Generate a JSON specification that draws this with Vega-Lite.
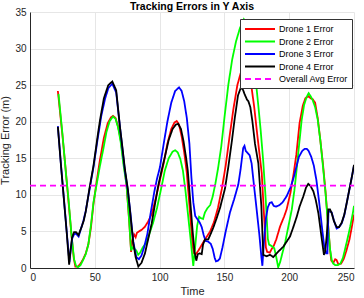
{
"$schema": "https://vega.github.io/schema/vega-lite/v6.json",
"width": 324, "height": 256,
"autosize": {"type": "none"},
"padding": {"left": 30, "top": 12, "right": 10, "bottom": 30},
"background": "white",
"title": {"text": "Tracking Errors in Y Axis", "fontSize": 10.5, "fontWeight": "bold", "font": "Liberation Sans", "offset": 0, "dy": 5, "color": "#000000"},
"data": {"values": [
{"s":"Drone 1 Error","t":21.5,"v":24.2},{"s":"Drone 1 Error","t":25,"v":18.2},{"s":"Drone 1 Error","t":27.5,"v":13.5},{"s":"Drone 1 Error","t":29.6,"v":9.3},{"s":"Drone 1 Error","t":32,"v":4.5},{"s":"Drone 1 Error","t":33.8,"v":1.3},{"s":"Drone 1 Error","t":35,"v":0.2},{"s":"Drone 1 Error","t":37,"v":0.2},{"s":"Drone 1 Error","t":39,"v":0.6},{"s":"Drone 1 Error","t":41,"v":1.2},{"s":"Drone 1 Error","t":43,"v":2.0},{"s":"Drone 1 Error","t":45,"v":3.2},{"s":"Drone 1 Error","t":47,"v":5.5},{"s":"Drone 1 Error","t":49,"v":8.8},{"s":"Drone 1 Error","t":51.4,"v":11.8},{"s":"Drone 1 Error","t":54,"v":14.8},{"s":"Drone 1 Error","t":57,"v":17.8},{"s":"Drone 1 Error","t":60,"v":19.8},{"s":"Drone 1 Error","t":62.5,"v":20.6},{"s":"Drone 1 Error","t":64,"v":20.8},{"s":"Drone 1 Error","t":66,"v":20.5},{"s":"Drone 1 Error","t":68,"v":19.3},{"s":"Drone 1 Error","t":70,"v":17.5},{"s":"Drone 1 Error","t":72,"v":14.8},{"s":"Drone 1 Error","t":74.5,"v":11.3},{"s":"Drone 1 Error","t":76.5,"v":6.5},{"s":"Drone 1 Error","t":78,"v":2.2},{"s":"Drone 1 Error","t":79,"v":3.8},{"s":"Drone 1 Error","t":80.3,"v":4.6},{"s":"Drone 1 Error","t":81.5,"v":4.2},{"s":"Drone 1 Error","t":82.5,"v":4.8},{"s":"Drone 1 Error","t":84,"v":5.0},{"s":"Drone 1 Error","t":86,"v":5.2},{"s":"Drone 1 Error","t":88.5,"v":5.6},{"s":"Drone 1 Error","t":91,"v":6.3},{"s":"Drone 1 Error","t":94,"v":7.4},{"s":"Drone 1 Error","t":97,"v":9.5},{"s":"Drone 1 Error","t":100,"v":11.8},{"s":"Drone 1 Error","t":103,"v":14.2},{"s":"Drone 1 Error","t":106,"v":17},{"s":"Drone 1 Error","t":109,"v":19},{"s":"Drone 1 Error","t":111.5,"v":19.9},{"s":"Drone 1 Error","t":113.2,"v":20.1},{"s":"Drone 1 Error","t":115,"v":19.6},{"s":"Drone 1 Error","t":117,"v":18},{"s":"Drone 1 Error","t":119,"v":15.8},{"s":"Drone 1 Error","t":121,"v":13},{"s":"Drone 1 Error","t":123.5,"v":7.5},{"s":"Drone 1 Error","t":125.5,"v":3.0},{"s":"Drone 1 Error","t":126.5,"v":2.0},{"s":"Drone 1 Error","t":128,"v":1.9},{"s":"Drone 1 Error","t":130,"v":2.4},{"s":"Drone 1 Error","t":132,"v":3.0},{"s":"Drone 1 Error","t":135,"v":3.9},{"s":"Drone 1 Error","t":139,"v":5.0},{"s":"Drone 1 Error","t":142,"v":6.3},{"s":"Drone 1 Error","t":145,"v":8.2},{"s":"Drone 1 Error","t":148,"v":10.8},{"s":"Drone 1 Error","t":151,"v":14},{"s":"Drone 1 Error","t":154,"v":18},{"s":"Drone 1 Error","t":157,"v":21.8},{"s":"Drone 1 Error","t":160,"v":25},{"s":"Drone 1 Error","t":162.5,"v":26.6},{"s":"Drone 1 Error","t":165.5,"v":27.3},{"s":"Drone 1 Error","t":168.5,"v":26.8},{"s":"Drone 1 Error","t":170.5,"v":25.3},{"s":"Drone 1 Error","t":173,"v":22},{"s":"Drone 1 Error","t":175.5,"v":18},{"s":"Drone 1 Error","t":178.8,"v":13},{"s":"Drone 1 Error","t":180.5,"v":7.5},{"s":"Drone 1 Error","t":182,"v":2.8},{"s":"Drone 1 Error","t":183,"v":2.2},{"s":"Drone 1 Error","t":185,"v":2.1},{"s":"Drone 1 Error","t":186.5,"v":2.6},{"s":"Drone 1 Error","t":188,"v":3.0},{"s":"Drone 1 Error","t":190,"v":3.9},{"s":"Drone 1 Error","t":193,"v":5.7},{"s":"Drone 1 Error","t":196,"v":7},{"s":"Drone 1 Error","t":198,"v":8.0},{"s":"Drone 1 Error","t":201,"v":10.3},{"s":"Drone 1 Error","t":203.5,"v":13},{"s":"Drone 1 Error","t":205.5,"v":15.5},{"s":"Drone 1 Error","t":208,"v":19.8},{"s":"Drone 1 Error","t":210.5,"v":22.2},{"s":"Drone 1 Error","t":212.5,"v":23.2},{"s":"Drone 1 Error","t":214.7,"v":23.5},{"s":"Drone 1 Error","t":216.5,"v":23.2},{"s":"Drone 1 Error","t":218,"v":23.1},{"s":"Drone 1 Error","t":220,"v":22.6},{"s":"Drone 1 Error","t":222,"v":20.5},{"s":"Drone 1 Error","t":224,"v":17.5},{"s":"Drone 1 Error","t":226,"v":14.3},{"s":"Drone 1 Error","t":228,"v":10.5},{"s":"Drone 1 Error","t":230,"v":6.0},{"s":"Drone 1 Error","t":231.5,"v":2.5},{"s":"Drone 1 Error","t":232.5,"v":1.0},{"s":"Drone 1 Error","t":234,"v":0.7},{"s":"Drone 1 Error","t":235.5,"v":1.2},{"s":"Drone 1 Error","t":236.5,"v":1.1},{"s":"Drone 1 Error","t":238,"v":0.5},{"s":"Drone 1 Error","t":240,"v":0.6},{"s":"Drone 1 Error","t":242,"v":1.2},{"s":"Drone 1 Error","t":244,"v":2.3},{"s":"Drone 1 Error","t":246.5,"v":3.9},{"s":"Drone 1 Error","t":248.5,"v":5.8},{"s":"Drone 1 Error","t":250,"v":7.3},
{"s":"Drone 2 Error","t":22,"v":23.8},{"s":"Drone 2 Error","t":25,"v":18.4},{"s":"Drone 2 Error","t":27.8,"v":12.8},{"s":"Drone 2 Error","t":29.6,"v":9.6},{"s":"Drone 2 Error","t":32,"v":4.6},{"s":"Drone 2 Error","t":34,"v":1.2},{"s":"Drone 2 Error","t":35.5,"v":0.3},{"s":"Drone 2 Error","t":37,"v":0.1},{"s":"Drone 2 Error","t":39,"v":0.4},{"s":"Drone 2 Error","t":41,"v":1.1},{"s":"Drone 2 Error","t":43,"v":1.9},{"s":"Drone 2 Error","t":45,"v":3.2},{"s":"Drone 2 Error","t":47,"v":5.8},{"s":"Drone 2 Error","t":49,"v":9.0},{"s":"Drone 2 Error","t":51.4,"v":11.4},{"s":"Drone 2 Error","t":54,"v":14},{"s":"Drone 2 Error","t":56.6,"v":16.3},{"s":"Drone 2 Error","t":59,"v":18.6},{"s":"Drone 2 Error","t":61.5,"v":20.1},{"s":"Drone 2 Error","t":64,"v":20.7},{"s":"Drone 2 Error","t":66,"v":20.4},{"s":"Drone 2 Error","t":68,"v":19.2},{"s":"Drone 2 Error","t":70,"v":17.2},{"s":"Drone 2 Error","t":72,"v":14.3},{"s":"Drone 2 Error","t":74.6,"v":11.2},{"s":"Drone 2 Error","t":76.5,"v":6.5},{"s":"Drone 2 Error","t":78,"v":2.4},{"s":"Drone 2 Error","t":79,"v":2.8},{"s":"Drone 2 Error","t":80.5,"v":2.6},{"s":"Drone 2 Error","t":82,"v":2.4},{"s":"Drone 2 Error","t":83.5,"v":1.8},{"s":"Drone 2 Error","t":85,"v":2.1},{"s":"Drone 2 Error","t":87,"v":2.8},{"s":"Drone 2 Error","t":90,"v":3.5},{"s":"Drone 2 Error","t":92,"v":4.6},{"s":"Drone 2 Error","t":95,"v":6.2},{"s":"Drone 2 Error","t":98,"v":8.2},{"s":"Drone 2 Error","t":101.6,"v":11.2},{"s":"Drone 2 Error","t":104,"v":13.3},{"s":"Drone 2 Error","t":107,"v":15.0},{"s":"Drone 2 Error","t":110,"v":15.9},{"s":"Drone 2 Error","t":112,"v":16.1},{"s":"Drone 2 Error","t":114,"v":15.8},{"s":"Drone 2 Error","t":116,"v":14.9},{"s":"Drone 2 Error","t":118,"v":13.3},{"s":"Drone 2 Error","t":120,"v":10.5},{"s":"Drone 2 Error","t":122,"v":7.2},{"s":"Drone 2 Error","t":124,"v":3.8},{"s":"Drone 2 Error","t":126,"v":0.3},{"s":"Drone 2 Error","t":127.5,"v":3.0},{"s":"Drone 2 Error","t":129,"v":5.8},{"s":"Drone 2 Error","t":130.5,"v":7.0},{"s":"Drone 2 Error","t":132,"v":6.8},{"s":"Drone 2 Error","t":133.5,"v":6.7},{"s":"Drone 2 Error","t":135,"v":7.6},{"s":"Drone 2 Error","t":137,"v":8.2},{"s":"Drone 2 Error","t":139,"v":8.6},{"s":"Drone 2 Error","t":141,"v":9.8},{"s":"Drone 2 Error","t":143,"v":11.5},{"s":"Drone 2 Error","t":145,"v":13.5},{"s":"Drone 2 Error","t":147.5,"v":16.5},{"s":"Drone 2 Error","t":150,"v":20.5},{"s":"Drone 2 Error","t":153,"v":25},{"s":"Drone 2 Error","t":156,"v":28.5},{"s":"Drone 2 Error","t":159,"v":31},{"s":"Drone 2 Error","t":162,"v":32.8},{"s":"Drone 2 Error","t":165,"v":34},{"s":"Drone 2 Error","t":168,"v":33},{"s":"Drone 2 Error","t":170,"v":31},{"s":"Drone 2 Error","t":172,"v":28.5},{"s":"Drone 2 Error","t":174,"v":26},{"s":"Drone 2 Error","t":176,"v":22.5},{"s":"Drone 2 Error","t":178,"v":18.8},{"s":"Drone 2 Error","t":180,"v":14.5},{"s":"Drone 2 Error","t":182,"v":9},{"s":"Drone 2 Error","t":183.5,"v":4.0},{"s":"Drone 2 Error","t":184.5,"v":3.2},{"s":"Drone 2 Error","t":186.5,"v":3.0},{"s":"Drone 2 Error","t":188.5,"v":2.7},{"s":"Drone 2 Error","t":190,"v":1.5},{"s":"Drone 2 Error","t":191.5,"v":0.1},{"s":"Drone 2 Error","t":193,"v":0.8},{"s":"Drone 2 Error","t":195,"v":2.2},{"s":"Drone 2 Error","t":197,"v":3.6},{"s":"Drone 2 Error","t":199.5,"v":5.8},{"s":"Drone 2 Error","t":202,"v":8.0},{"s":"Drone 2 Error","t":204,"v":10.6},{"s":"Drone 2 Error","t":205.8,"v":13.6},{"s":"Drone 2 Error","t":207.5,"v":16.6},{"s":"Drone 2 Error","t":209.6,"v":20.2},{"s":"Drone 2 Error","t":211.5,"v":22.3},{"s":"Drone 2 Error","t":213.5,"v":23.4},{"s":"Drone 2 Error","t":215,"v":23.9},{"s":"Drone 2 Error","t":216.5,"v":23.5},{"s":"Drone 2 Error","t":218,"v":23.0},{"s":"Drone 2 Error","t":220,"v":22.0},{"s":"Drone 2 Error","t":222,"v":20.3},{"s":"Drone 2 Error","t":224,"v":17.5},{"s":"Drone 2 Error","t":226,"v":14.0},{"s":"Drone 2 Error","t":228,"v":10.3},{"s":"Drone 2 Error","t":230,"v":5.8},{"s":"Drone 2 Error","t":231.5,"v":2.6},{"s":"Drone 2 Error","t":232.8,"v":1.1},{"s":"Drone 2 Error","t":234,"v":0.6},{"s":"Drone 2 Error","t":235.5,"v":0.4},{"s":"Drone 2 Error","t":237.5,"v":0.4},{"s":"Drone 2 Error","t":239.5,"v":0.6},{"s":"Drone 2 Error","t":241.5,"v":1.4},{"s":"Drone 2 Error","t":243,"v":2.5},{"s":"Drone 2 Error","t":245,"v":4.0},{"s":"Drone 2 Error","t":247,"v":5.6},{"s":"Drone 2 Error","t":249,"v":7.4},{"s":"Drone 2 Error","t":250,"v":8.5},
{"s":"Drone 3 Error","t":21.5,"v":19.4},{"s":"Drone 3 Error","t":24,"v":13.9},{"s":"Drone 3 Error","t":26.2,"v":9.4},{"s":"Drone 3 Error","t":28.5,"v":4.6},{"s":"Drone 3 Error","t":30.4,"v":0.8},{"s":"Drone 3 Error","t":31.5,"v":2.5},{"s":"Drone 3 Error","t":32.5,"v":4.0},{"s":"Drone 3 Error","t":34,"v":4.6},{"s":"Drone 3 Error","t":35.5,"v":4.7},{"s":"Drone 3 Error","t":37.5,"v":4.3},{"s":"Drone 3 Error","t":39,"v":5.2},{"s":"Drone 3 Error","t":41,"v":6.3},{"s":"Drone 3 Error","t":43,"v":7.8},{"s":"Drone 3 Error","t":46,"v":10.8},{"s":"Drone 3 Error","t":49,"v":13.8},{"s":"Drone 3 Error","t":52,"v":17.4},{"s":"Drone 3 Error","t":55,"v":20.8},{"s":"Drone 3 Error","t":58,"v":23.2},{"s":"Drone 3 Error","t":60.5,"v":24.6},{"s":"Drone 3 Error","t":63.5,"v":25.2},{"s":"Drone 3 Error","t":66.5,"v":24.0},{"s":"Drone 3 Error","t":69.4,"v":19.3},{"s":"Drone 3 Error","t":71.5,"v":16},{"s":"Drone 3 Error","t":73.3,"v":13.2},{"s":"Drone 3 Error","t":75.5,"v":10.6},{"s":"Drone 3 Error","t":77.5,"v":7.5},{"s":"Drone 3 Error","t":79.7,"v":3.6},{"s":"Drone 3 Error","t":82,"v":1.5},{"s":"Drone 3 Error","t":84,"v":1.2},{"s":"Drone 3 Error","t":86,"v":1.7},{"s":"Drone 3 Error","t":88,"v":2.8},{"s":"Drone 3 Error","t":90.5,"v":4.6},{"s":"Drone 3 Error","t":93,"v":7.4},{"s":"Drone 3 Error","t":96,"v":10.5},{"s":"Drone 3 Error","t":98,"v":12.2},{"s":"Drone 3 Error","t":100.3,"v":13.8},{"s":"Drone 3 Error","t":103,"v":16.8},{"s":"Drone 3 Error","t":106,"v":20},{"s":"Drone 3 Error","t":109,"v":22.6},{"s":"Drone 3 Error","t":112,"v":24.2},{"s":"Drone 3 Error","t":115,"v":24.7},{"s":"Drone 3 Error","t":117,"v":24.2},{"s":"Drone 3 Error","t":119,"v":22.8},{"s":"Drone 3 Error","t":121,"v":20.5},{"s":"Drone 3 Error","t":123,"v":17},{"s":"Drone 3 Error","t":124.5,"v":12.5},{"s":"Drone 3 Error","t":126,"v":9.0},{"s":"Drone 3 Error","t":127.5,"v":7.1},{"s":"Drone 3 Error","t":129.5,"v":6.6},{"s":"Drone 3 Error","t":131,"v":6.2},{"s":"Drone 3 Error","t":132.5,"v":5.6},{"s":"Drone 3 Error","t":134,"v":4.5},{"s":"Drone 3 Error","t":135.5,"v":3.7},{"s":"Drone 3 Error","t":137.5,"v":3.6},{"s":"Drone 3 Error","t":139.5,"v":3.3},{"s":"Drone 3 Error","t":141,"v":2.6},{"s":"Drone 3 Error","t":142.5,"v":1.4},{"s":"Drone 3 Error","t":143.5,"v":0.9},{"s":"Drone 3 Error","t":145,"v":1.0},{"s":"Drone 3 Error","t":146.5,"v":1.3},{"s":"Drone 3 Error","t":148.5,"v":2.8},{"s":"Drone 3 Error","t":151,"v":5.0},{"s":"Drone 3 Error","t":154.3,"v":7.6},{"s":"Drone 3 Error","t":157.5,"v":9.4},{"s":"Drone 3 Error","t":160.7,"v":11.4},{"s":"Drone 3 Error","t":162.5,"v":13.5},{"s":"Drone 3 Error","t":164.5,"v":16.4},{"s":"Drone 3 Error","t":165.5,"v":16.7},{"s":"Drone 3 Error","t":166.5,"v":16.0},{"s":"Drone 3 Error","t":168,"v":15.7},{"s":"Drone 3 Error","t":169.5,"v":15.4},{"s":"Drone 3 Error","t":171,"v":14.3},{"s":"Drone 3 Error","t":173,"v":11},{"s":"Drone 3 Error","t":175,"v":7.8},{"s":"Drone 3 Error","t":177,"v":4.5},{"s":"Drone 3 Error","t":178.6,"v":1.4},{"s":"Drone 3 Error","t":179.3,"v":0.3},{"s":"Drone 3 Error","t":180.5,"v":3.5},{"s":"Drone 3 Error","t":182,"v":6.8},{"s":"Drone 3 Error","t":183.5,"v":8.3},{"s":"Drone 3 Error","t":185,"v":8.9},{"s":"Drone 3 Error","t":186.5,"v":9.0},{"s":"Drone 3 Error","t":188,"v":8.5},{"s":"Drone 3 Error","t":190,"v":8.4},{"s":"Drone 3 Error","t":192.5,"v":8.6},{"s":"Drone 3 Error","t":195,"v":9.0},{"s":"Drone 3 Error","t":198,"v":9.8},{"s":"Drone 3 Error","t":201,"v":11},{"s":"Drone 3 Error","t":203.5,"v":12.4},{"s":"Drone 3 Error","t":205.5,"v":13.8},{"s":"Drone 3 Error","t":207.5,"v":15.2},{"s":"Drone 3 Error","t":210,"v":16.0},{"s":"Drone 3 Error","t":212,"v":16.3},{"s":"Drone 3 Error","t":213.5,"v":16.3},{"s":"Drone 3 Error","t":215,"v":16.0},{"s":"Drone 3 Error","t":217,"v":15.2},{"s":"Drone 3 Error","t":219,"v":14.0},{"s":"Drone 3 Error","t":221,"v":12},{"s":"Drone 3 Error","t":223,"v":9.2},{"s":"Drone 3 Error","t":225,"v":6.0},{"s":"Drone 3 Error","t":227,"v":3.0},{"s":"Drone 3 Error","t":228.5,"v":2.0},{"s":"Drone 3 Error","t":229.5,"v":2.0},{"s":"Drone 3 Error","t":230.3,"v":7.8},{"s":"Drone 3 Error","t":232.8,"v":7.6},{"s":"Drone 3 Error","t":234.5,"v":6.5},{"s":"Drone 3 Error","t":236.6,"v":5.4},{"s":"Drone 3 Error","t":238.5,"v":5.6},{"s":"Drone 3 Error","t":240.5,"v":6.1},{"s":"Drone 3 Error","t":242.5,"v":7.2},{"s":"Drone 3 Error","t":244.4,"v":8.9},{"s":"Drone 3 Error","t":246.5,"v":10.8},{"s":"Drone 3 Error","t":248.5,"v":12.6},{"s":"Drone 3 Error","t":250,"v":14.0},
{"s":"Drone 4 Error","t":21.5,"v":19.3},{"s":"Drone 4 Error","t":24,"v":13.8},{"s":"Drone 4 Error","t":26.2,"v":9.3},{"s":"Drone 4 Error","t":28.5,"v":4.5},{"s":"Drone 4 Error","t":30.2,"v":0.45},{"s":"Drone 4 Error","t":31.3,"v":2.5},{"s":"Drone 4 Error","t":32.5,"v":4.2},{"s":"Drone 4 Error","t":34,"v":4.9},{"s":"Drone 4 Error","t":35.5,"v":4.9},{"s":"Drone 4 Error","t":37.5,"v":4.5},{"s":"Drone 4 Error","t":38.5,"v":5.0},{"s":"Drone 4 Error","t":40,"v":5.7},{"s":"Drone 4 Error","t":41.5,"v":6.5},{"s":"Drone 4 Error","t":43,"v":7.7},{"s":"Drone 4 Error","t":46,"v":11},{"s":"Drone 4 Error","t":49,"v":14},{"s":"Drone 4 Error","t":52,"v":17.8},{"s":"Drone 4 Error","t":54,"v":20.2},{"s":"Drone 4 Error","t":57,"v":23.2},{"s":"Drone 4 Error","t":60.4,"v":25},{"s":"Drone 4 Error","t":63.5,"v":25.5},{"s":"Drone 4 Error","t":66.5,"v":24.3},{"s":"Drone 4 Error","t":69.4,"v":19.3},{"s":"Drone 4 Error","t":71.5,"v":16.2},{"s":"Drone 4 Error","t":73.3,"v":13.4},{"s":"Drone 4 Error","t":75.5,"v":10.8},{"s":"Drone 4 Error","t":77.5,"v":7.2},{"s":"Drone 4 Error","t":79.7,"v":3.4},{"s":"Drone 4 Error","t":81.5,"v":1.5},{"s":"Drone 4 Error","t":83.6,"v":0.2},{"s":"Drone 4 Error","t":86,"v":0.7},{"s":"Drone 4 Error","t":88.7,"v":2.0},{"s":"Drone 4 Error","t":91,"v":3.8},{"s":"Drone 4 Error","t":93.9,"v":6.1},{"s":"Drone 4 Error","t":96.5,"v":8.8},{"s":"Drone 4 Error","t":99,"v":11.3},{"s":"Drone 4 Error","t":101.5,"v":13.3},{"s":"Drone 4 Error","t":104.2,"v":15.3},{"s":"Drone 4 Error","t":107,"v":17.5},{"s":"Drone 4 Error","t":110,"v":19},{"s":"Drone 4 Error","t":112.5,"v":19.6},{"s":"Drone 4 Error","t":114.4,"v":19.7},{"s":"Drone 4 Error","t":116.5,"v":19},{"s":"Drone 4 Error","t":118.5,"v":17.3},{"s":"Drone 4 Error","t":120.5,"v":15},{"s":"Drone 4 Error","t":121.7,"v":13.4},{"s":"Drone 4 Error","t":123.5,"v":9.5},{"s":"Drone 4 Error","t":125.5,"v":5},{"s":"Drone 4 Error","t":127,"v":2.2},{"s":"Drone 4 Error","t":128.3,"v":1.0},{"s":"Drone 4 Error","t":129.5,"v":1.9},{"s":"Drone 4 Error","t":131,"v":2.0},{"s":"Drone 4 Error","t":132.5,"v":1.9},{"s":"Drone 4 Error","t":133.5,"v":3.2},{"s":"Drone 4 Error","t":135,"v":3.9},{"s":"Drone 4 Error","t":137.5,"v":3.9},{"s":"Drone 4 Error","t":139.5,"v":4.7},{"s":"Drone 4 Error","t":141.4,"v":5.5},{"s":"Drone 4 Error","t":144,"v":6.8},{"s":"Drone 4 Error","t":146.6,"v":8.2},{"s":"Drone 4 Error","t":150.5,"v":10.9},{"s":"Drone 4 Error","t":153,"v":13.8},{"s":"Drone 4 Error","t":155.5,"v":17},{"s":"Drone 4 Error","t":158,"v":20.5},{"s":"Drone 4 Error","t":160.5,"v":23.6},{"s":"Drone 4 Error","t":162.8,"v":24.7},{"s":"Drone 4 Error","t":164.5,"v":24.3},{"s":"Drone 4 Error","t":165.5,"v":23.8},{"s":"Drone 4 Error","t":166.5,"v":23.4},{"s":"Drone 4 Error","t":167.5,"v":23.0},{"s":"Drone 4 Error","t":168.5,"v":22.8},{"s":"Drone 4 Error","t":170,"v":22},{"s":"Drone 4 Error","t":171.5,"v":20.2},{"s":"Drone 4 Error","t":173.6,"v":17},{"s":"Drone 4 Error","t":176.2,"v":14.3},{"s":"Drone 4 Error","t":178.5,"v":8.5},{"s":"Drone 4 Error","t":180,"v":1.8},{"s":"Drone 4 Error","t":182.6,"v":1.6},{"s":"Drone 4 Error","t":185.2,"v":1.8},{"s":"Drone 4 Error","t":187.7,"v":1.5},{"s":"Drone 4 Error","t":190.3,"v":2.0},{"s":"Drone 4 Error","t":192.5,"v":2.4},{"s":"Drone 4 Error","t":195.4,"v":2.9},{"s":"Drone 4 Error","t":198,"v":3.6},{"s":"Drone 4 Error","t":200.6,"v":4.3},{"s":"Drone 4 Error","t":203,"v":5.5},{"s":"Drone 4 Error","t":205.8,"v":7.0},{"s":"Drone 4 Error","t":208,"v":8.4},{"s":"Drone 4 Error","t":210.9,"v":9.8},{"s":"Drone 4 Error","t":213,"v":11.0},{"s":"Drone 4 Error","t":214.7,"v":11.5},{"s":"Drone 4 Error","t":216.5,"v":11.2},{"s":"Drone 4 Error","t":218.6,"v":10.5},{"s":"Drone 4 Error","t":220.5,"v":9.3},{"s":"Drone 4 Error","t":222.5,"v":7.5},{"s":"Drone 4 Error","t":224,"v":5.5},{"s":"Drone 4 Error","t":225.5,"v":3.5},{"s":"Drone 4 Error","t":226.8,"v":1.8},{"s":"Drone 4 Error","t":227.8,"v":2.3},{"s":"Drone 4 Error","t":229,"v":4.5},{"s":"Drone 4 Error","t":230.2,"v":8.0},{"s":"Drone 4 Error","t":231.5,"v":8.0},{"s":"Drone 4 Error","t":232.8,"v":7.5},{"s":"Drone 4 Error","t":234.5,"v":6.4},{"s":"Drone 4 Error","t":236.6,"v":5.6},{"s":"Drone 4 Error","t":238.5,"v":5.6},{"s":"Drone 4 Error","t":240.5,"v":6.2},{"s":"Drone 4 Error","t":242.5,"v":7.3},{"s":"Drone 4 Error","t":244.4,"v":8.9},{"s":"Drone 4 Error","t":246.5,"v":10.8},{"s":"Drone 4 Error","t":248.5,"v":12.6},{"s":"Drone 4 Error","t":250,"v":14.1},
{"s":"Overall Avg Error","t":0,"v":11.25},{"s":"Overall Avg Error","t":250,"v":11.25}
]},
"mark": {"type": "line", "strokeWidth": 1.8, "clip": true},
"encoding": {
"x": {"field": "t", "type": "quantitative", "title": "Time", "scale": {"domain": [0, 250], "nice": false}, "axis": {"values": [0, 50, 100, 150, 200, 250]}},
"y": {"field": "v", "type": "quantitative", "title": "Tracking Error (m)", "scale": {"domain": [0, 35], "nice": false}, "axis": {"values": [0, 5, 10, 15, 20, 25, 30, 35]}},
"color": {"field": "s", "type": "nominal", "title": null, "scale": {"domain": ["Drone 1 Error", "Drone 2 Error", "Drone 3 Error", "Drone 4 Error", "Overall Avg Error"], "range": ["#ff0000", "#00ff00", "#0000ff", "#000000", "#ff00ff"]}},
"strokeDash": {"field": "s", "type": "nominal", "title": null, "scale": {"domain": ["Drone 1 Error", "Drone 2 Error", "Drone 3 Error", "Drone 4 Error", "Overall Avg Error"], "range": [[1, 0], [1, 0], [1, 0], [1, 0], [6, 4]]}}
},
"config": {
"view": {"stroke": null},
"font": "Liberation Sans",
"axis": {"domainColor": "#262626", "domainWidth": 1, "gridColor": "#e6e6e6", "gridWidth": 1, "ticks": false, "labelColor": "#262626", "labelFontSize": 10, "labelFont": "Liberation Sans", "labelPadding": 4, "titleFont": "Liberation Sans", "titleFontSize": 11, "titleFontWeight": "normal", "titleColor": "#262626"},
"axisX": {"titlePadding": 3},
"axisY": {"titlePadding": 4},
"legend": {"orient": "none", "legendX": 210, "legendY": 7, "symbolType": "M-3,0H3", "symbolSize": 100, "symbolStrokeWidth": 2, "symbolOffset": 10, "labelFontSize": 9, "labelFont": "Liberation Sans", "labelColor": "#000000", "labelOffset": 13, "padding": 4, "strokeColor": "#333333", "fillColor": "#ffffff", "rowPadding": 1.5, "cornerRadius": 0}
}
}
